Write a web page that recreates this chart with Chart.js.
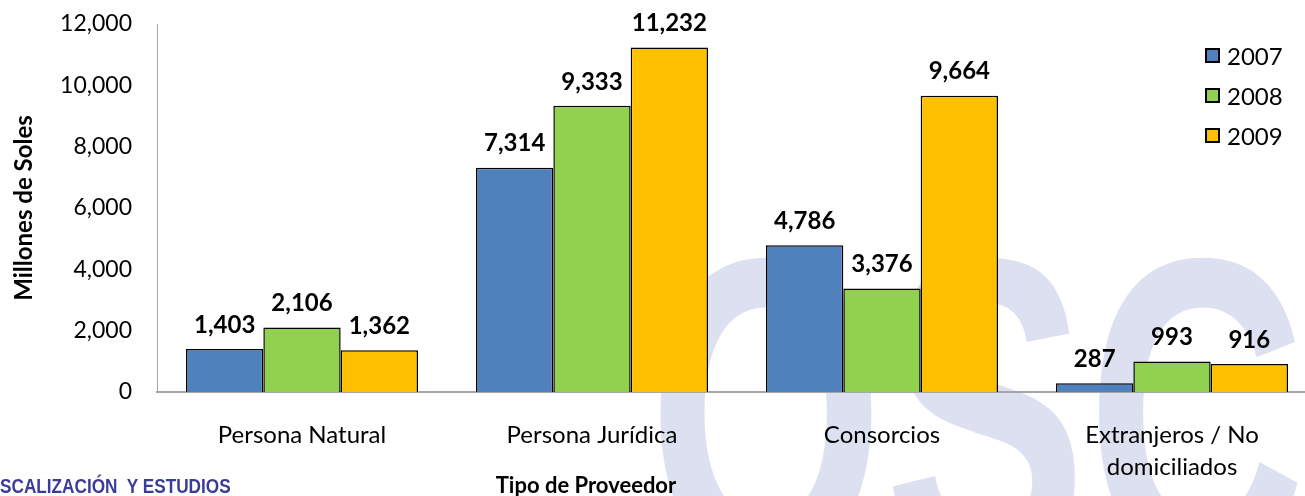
<!DOCTYPE html>
<html>
<head>
<meta charset="utf-8">
<title>Tipo de Proveedor</title>
<script src="https://cdn.jsdelivr.net/npm/chart.js@4.4.0/dist/chart.umd.min.js"></script>
<style>
  html, body { margin: 0; padding: 0; background: #fff; overflow: hidden; }
  #wrap { position: relative; width: 1320px; height: 496px; }
  #legend { position: absolute; left: 1205px; top: 35px; font-family: Lato, sans-serif; font-size: 24px; color: #000; }
  .legend-item { display: flex; align-items: center; height: 40px; }
  .legend-box { width: 11px; height: 11px; border: 2px solid #000; margin-right: 7px; }
  #xTitle { position: absolute; left: 0; width: 1172px; top: 471px; text-align: center; font: bold 22px Lato, sans-serif; color: #000; }
  #footer { position: absolute; left: 0; top: 475px; font: bold 20px "Liberation Sans Narrow", "Arial Narrow", sans-serif; color: #3b3b98; white-space: pre; transform: scaleX(0.86); transform-origin: left top; }
</style>
</head>
<body>
<div id="wrap">
  <canvas id="chartProveedor"></canvas>
  <div id="legend"></div>
  <div id="xTitle">Tipo de Proveedor</div>
  <div id="footer">SCALIZACIÓN  Y ESTUDIOS</div>
</div>

<script>
// ---- Data ----
const categories = ['Persona Natural', 'Persona Jurídica', 'Consorcios', ['Extranjeros / No', 'domiciliados']];
const years      = ['2007', '2008', '2009'];
const values2007 = [1403, 7314, 4786, 287];
const values2008 = [2106, 9333, 3376, 993];
const values2009 = [1362, 11232, 9664, 916];
const yTicks     = [0, 2000, 4000, 6000, 8000, 10000, 12000];

const COLORS = ['#4f81bd', '#92d050', '#ffc000'];

function formatAmount(val) {
  return val.toLocaleString('en-US', { maximumFractionDigits: 0 });
}

// ---- Watermark behind everything ----
const watermark = {
  id: 'watermark',
  beforeDraw(chart) {
    const ctx = chart.ctx;
    ctx.save();
    ctx.fillStyle = '#dce0f1';
    ctx.font = 'bold 440px "Liberation Sans", Arial, sans-serif';
    ctx.textBaseline = 'alphabetic';
    ctx.translate(648, 565);
    ctx.scale(0.69, 1);
    ctx.fillText('OSC', 0, 0);
    ctx.restore();
  }
};

// ---- Value labels above bars ----
const barLabels = {
  id: 'barLabels',
  afterDatasetsDraw(chart) {
    const ctx = chart.ctx;
    ctx.save();
    ctx.font = 'bold 24px Lato, sans-serif';
    ctx.fillStyle = '#000';
    ctx.textAlign = 'center';
    ctx.textBaseline = 'middle';
    chart.data.datasets.forEach(function (ds, i) {
      chart.getDatasetMeta(i).data.forEach(function (bar, j) {
        ctx.fillText(formatAmount(ds.data[j]), bar.x, bar.y - 24);
      });
    });
    ctx.restore();
  }
};

const chart = new Chart(document.getElementById('chartProveedor').getContext('2d'), {
  type: 'bar',
  data: {
    labels: categories,
    datasets: [values2007, values2008, values2009].map(function (vals, i) {
      return {
        label: years[i],
        data: vals,
        backgroundColor: COLORS[i],
        borderColor: '#000',
        borderWidth: 1.5,
        categoryPercentage: 0.8,
        barPercentage: 1.0
      };
    })
  },
  options: {
    responsive: true,
    maintainAspectRatio: false,
    animation: false,
    layout: { padding: { top: 24, right: 3, left: 0, bottom: 0 } },
    plugins: {
      legend: { display: false },
      tooltip: { enabled: false }
    },
    scales: {
      x: {
        grid: { display: false, drawTicks: false },
        border: { display: true, color: '#a6a6a6', width: 2 },
        ticks: { font: { family: 'Lato', size: 24, lineHeight: 1.35 }, color: '#000', padding: 27, maxRotation: 0, autoSkip: false },
        afterFit: function (s) { s.height = 104; }
      },
      y: {
        min: 0,
        max: 12000,
        afterBuildTicks: function (s) { s.ticks = yTicks.map(function (v) { return { value: v }; }); },
        ticks: {
          callback: function (v) { return formatAmount(v); },
          font: { family: 'Lato', size: 23 },
          color: '#000',
          padding: 0
        },
        // hidden tick marks give the gap between labels and the axis line
        grid: { display: false, drawTicks: true, tickLength: 25 },
        border: { display: true, color: '#a6a6a6', width: 1 },
        title: {
          display: true,
          text: 'Millones de Soles',
          color: '#000',
          font: { family: 'Lato', size: 24, weight: 'bold' },
          padding: { top: 10, bottom: 0 }
        },
        afterFit: function (s) { s.width = 157; }
      }
    }
  },
  plugins: [watermark, barLabels]
});

// ---- Legend (built from datasets) ----
const legendWrap = document.getElementById('legend');
chart.data.datasets.forEach(function (ds) {
  const item = document.createElement('div');
  item.className = 'legend-item';
  item.innerHTML = '<span class="legend-box" style="background:' + ds.backgroundColor + '"></span>' + ds.label;
  legendWrap.appendChild(item);
});
</script>
</body>
</html>
